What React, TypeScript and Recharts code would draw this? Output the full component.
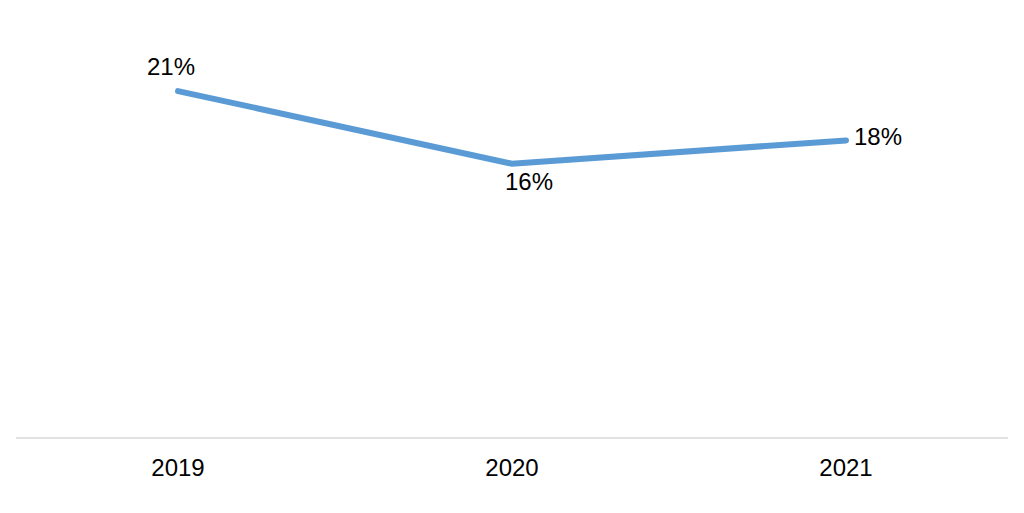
import { LineChart, Line, XAxis, YAxis, LabelList } from "recharts";

const years = ["2019", "2020", "2021"];
const shares = [20.75, 16.4, 17.8];

const data = years.map((year, i) => ({ year, share: shares[i] }));

// where each value label sits relative to its point
const labelPlacement = [
  { dx: -7, dy: -16, anchor: "middle" },
  { dx: 17, dy: 26, anchor: "middle" },
  { dx: 8, dy: 5, anchor: "start" },
];

const font = "'Liberation Sans', Arial, sans-serif";

const ValueLabel = (props: any) => {
  const { x, y, index, value } = props;
  const p = labelPlacement[index] || { dx: 0, dy: -12, anchor: "middle" };
  return (
    <text
      x={x + p.dx}
      y={y + p.dy}
      textAnchor={p.anchor}
      fontSize={24}
      fontFamily={font}
      fill="#000"
    >
      {Math.round(value)}%
    </text>
  );
};

export default function App() {
  return (
    <div style={{ position: "absolute", left: 0, top: 0, background: "#fff" }}>
      <LineChart
        width={1024}
        height={513}
        data={data}
        margin={{ top: 20, right: 16, bottom: 15, left: 16 }}
      >
        <XAxis
          dataKey="year"
          height={60}
          padding={{ left: 162, right: 162 }}
          stroke="#d9d9d9"
          strokeWidth={1.5}
          tickLine={false}
          tickSize={0}
          tickMargin={21}
          tick={{ fill: "#000", fontSize: 24, fontFamily: font }}
        />
        <YAxis hide domain={[0, 25]} />
        <Line
          type="linear"
          dataKey="share"
          stroke="#5b9bd5"
          strokeWidth={6}
          strokeLinecap="round"
          dot={false}
          activeDot={false}
          isAnimationActive={false}
        >
          <LabelList dataKey="share" content={ValueLabel} />
        </Line>
      </LineChart>
    </div>
  );
}
